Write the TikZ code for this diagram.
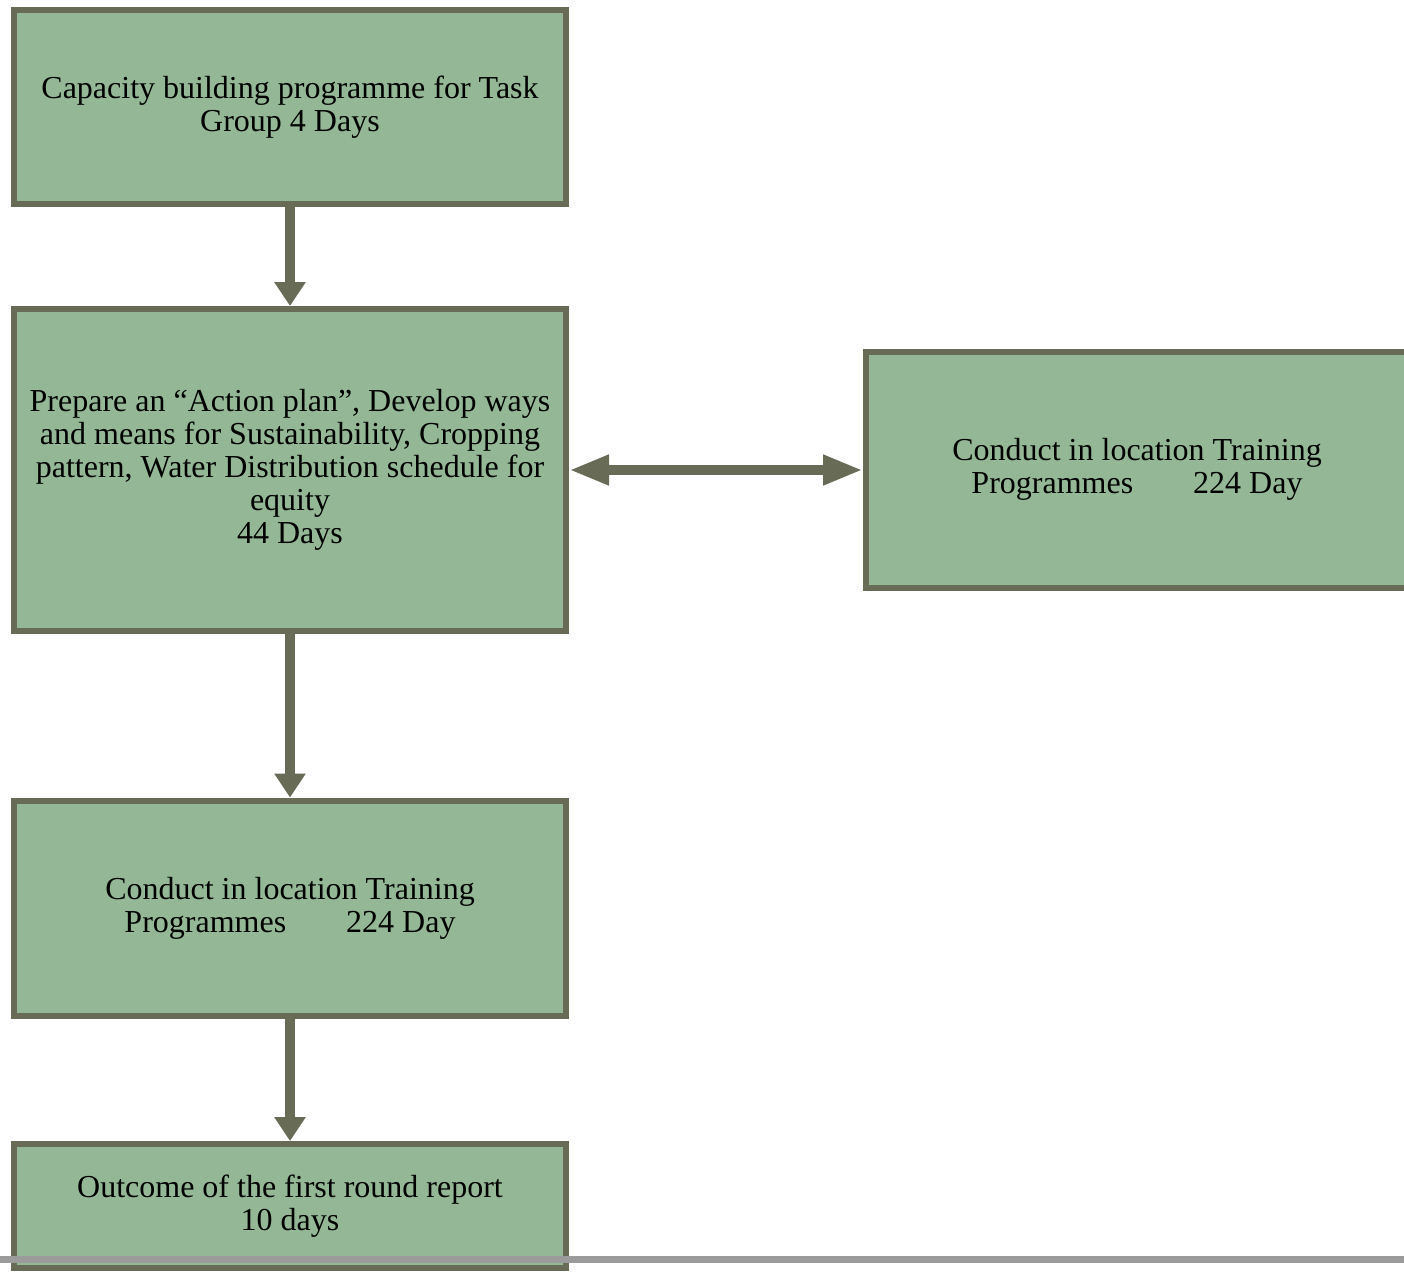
\documentclass[tikz,border=0pt]{standalone}
\usepackage{fontspec}
\setmainfont{Liberation Serif}
\usetikzlibrary{arrows.meta}
\definecolor{boxfill}{HTML}{94B896}
\definecolor{boxline}{HTML}{686B55}
\definecolor{rulegray}{HTML}{9B9B9B}
\begin{document}
\begin{tikzpicture}[x=1pt,y=-1pt,
  stagebox/.style={draw=boxline, fill=boxfill, line width=6pt, rectangle,
    inner sep=0pt, align=center, font=\fontsize{32}{33}\selectfont},
  flow/.style={draw=boxline, line width=10pt,
    -{Triangle[length=24pt,width=30pt]}},
  both/.style={draw=boxline, line width=10pt,
    {Triangle[length=40pt,width=28pt]}-{Triangle[length=40pt,width=28pt]}}]
\clip (0,0) rectangle (1404,1271);
\fill[white] (0,0) rectangle (1404,1271);
\node[stagebox, minimum width=552pt, minimum height=194pt] (b1) at (290,107)
  {Capacity building programme for Task\\Group 4 Days};
\node[stagebox, minimum width=552pt, minimum height=322pt] (b2) at (290,470)
  {Prepare an “Action plan”, Develop ways\\and means for Sustainability, Cropping\\pattern, Water Distribution schedule for\\equity\\44 Days};
\node[stagebox, minimum width=560pt, minimum height=236pt, anchor=west] (b3) at (863,470)
  {\hspace*{-18pt}\begin{tabular}{@{}c@{}}Conduct in location Training\\Programmes\hspace{60pt}224 Day\end{tabular}};
\node[stagebox, minimum width=552pt, minimum height=215pt] (b4) at (290,908)
  {Conduct in location Training\\Programmes\hspace{60pt}224 Day};
\node[stagebox, minimum width=552pt, minimum height=124pt] (b5) at (290,1206)
  {Outcome of the first round report\\10 days};
\draw[flow] (b1.south) -- (b2.north);
\draw[flow] (b2.south) -- (b4.north);
\draw[flow] (b4.south) -- (b5.north);
\draw[both] (b2.east) -- (b3.west);
\coordinate (gl) at (0,1259);
\coordinate (gr) at (1404,1259);
\draw[rulegray, line width=7pt] (gl) -- (gr);
\end{tikzpicture}
\end{document}
